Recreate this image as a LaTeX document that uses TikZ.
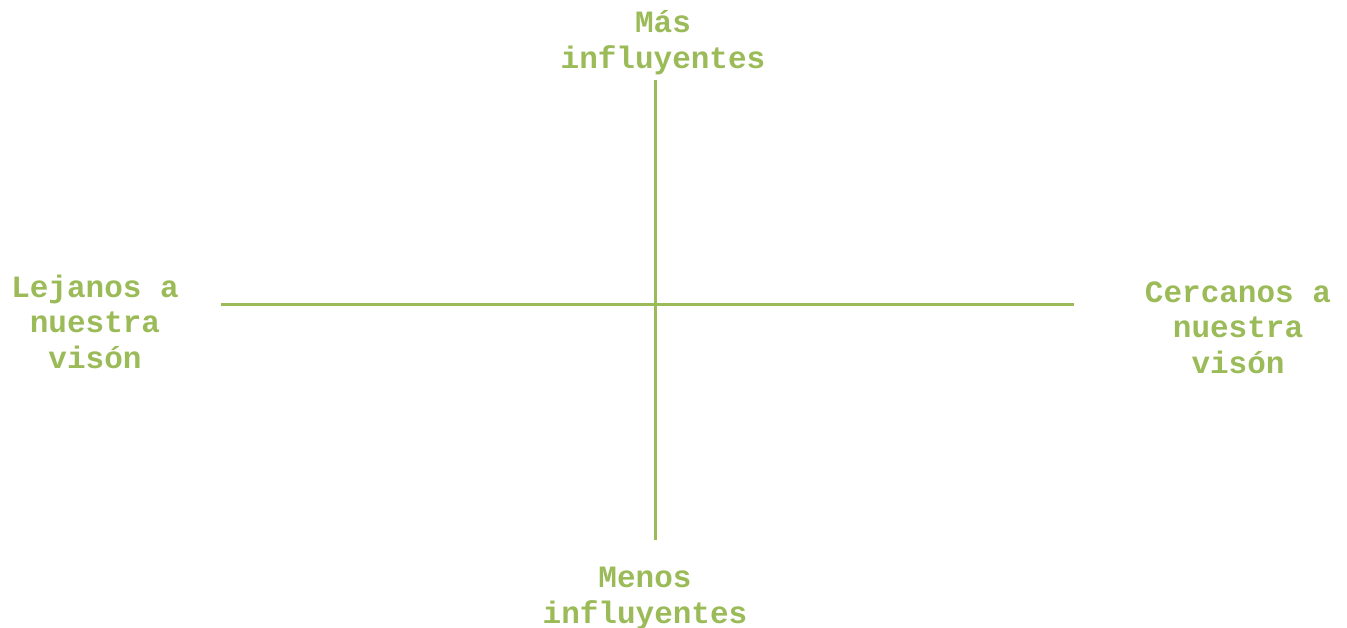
\documentclass[tikz,border=0pt]{standalone}
\usepackage{fontspec}
\setmonofont{Liberation Mono}
\definecolor{axisgreen}{HTML}{9BBB59}
\begin{document}
\begin{tikzpicture}[x=1pt,y=-1pt,
  lbl/.style={text=axisgreen,font=\ttfamily\bfseries\fontsize{31}{35.5}\selectfont,align=center,inner sep=0pt},
  axis/.style={draw=axisgreen,line width=3pt}]
\useasboundingbox (0,0) rectangle (1347,628);
\coordinate (vt) at (655,80);
\coordinate (vb) at (655,540);
\coordinate (hl) at (221,304.5);
\coordinate (hr) at (1074,304.5);
\draw[axis] (vt) -- (vb);
\draw[axis] (hl) -- (hr);
\node[lbl] (top) at (663,42.5) {Más\\influyentes};
\node[lbl] (left) at (95,321.5) {Lejanos a\\nuestra\\visón};
\node[lbl] (right) at (1238,327.5) {Cercanos a\\nuestra\\visón};
\node[lbl] (bottom) at (645,598.5) {Menos\\influyentes};
\end{tikzpicture}
\end{document}
